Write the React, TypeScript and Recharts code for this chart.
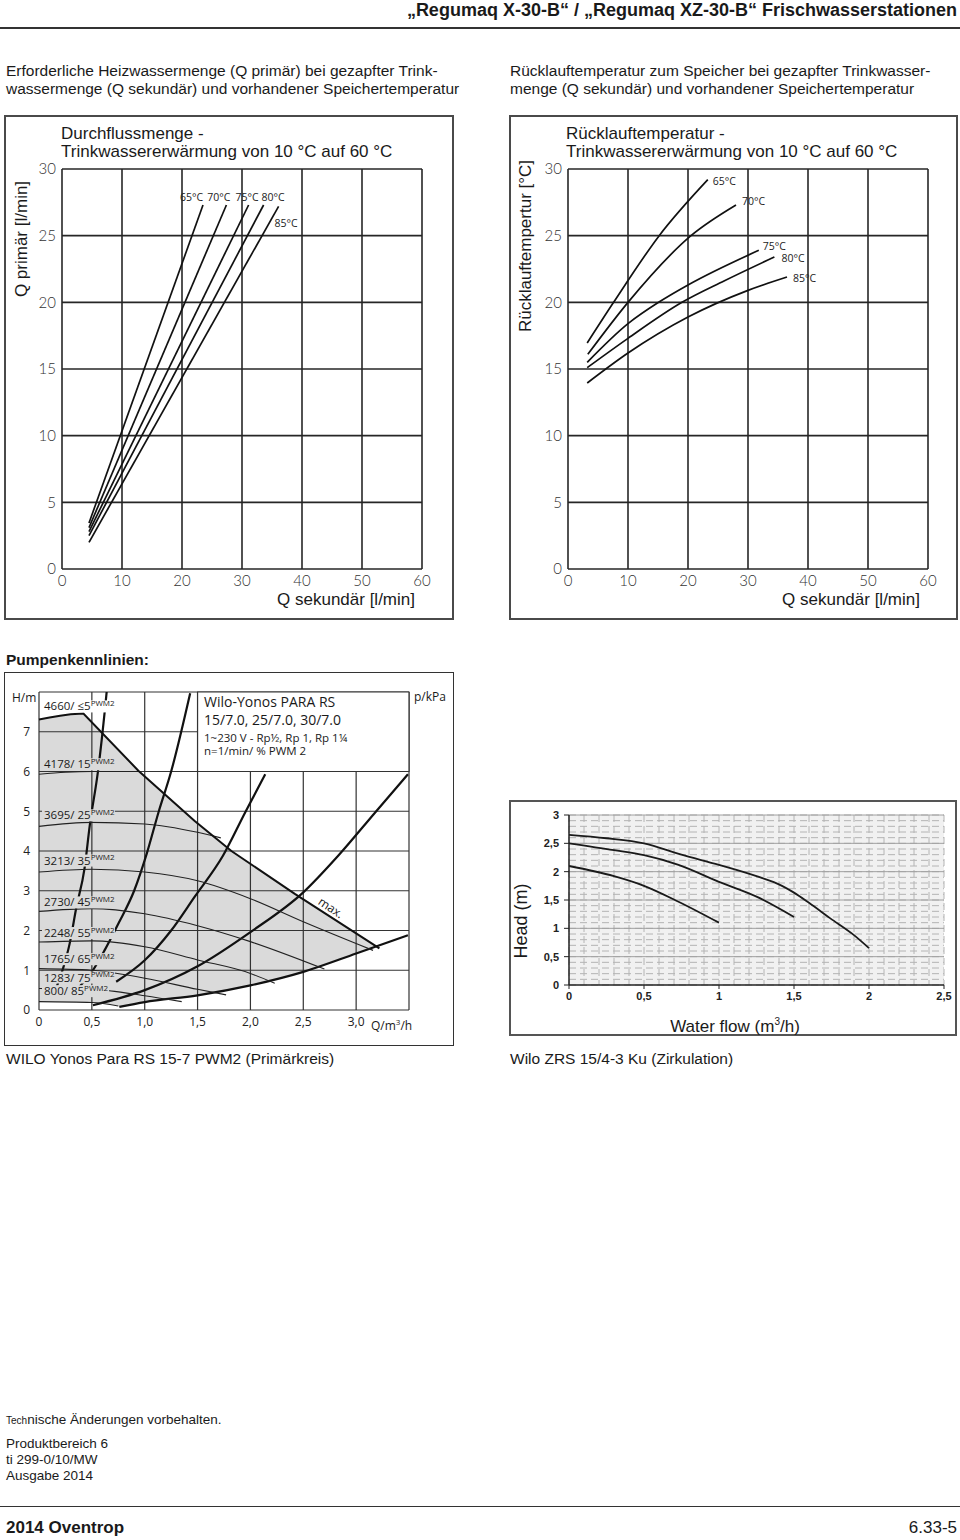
import React from 'react';
import {
  ComposedChart, LineChart, Line, Area, XAxis, YAxis, CartesianGrid,
  ReferenceArea, ReferenceLine, LabelList,
} from 'recharts';

type Pt = [number, number];
const rows = (pts: Pt[]) => pts.map(([x, y]) => ({ x, y }));

const NARROW = '"Liberation Sans Narrow", "Arial Narrow", "Liberation Sans", Arial, sans-serif';
const ARIAL = '"Liberation Sans", Arial, sans-serif';
const DIN = 'Lato, "DejaVu Sans", sans-serif';
const MYRIAD = '"Open Sans", "Noto Sans", sans-serif';

// ---------- Durchflussmenge / Rücklauftemperatur ----------
const tempXTicks = [0, 10, 20, 30, 40, 50, 60];
const tempYTicks = [0, 5, 10, 15, 20, 25, 30];
const storageTemps = ['65°C', '70°C', '75°C', '80°C', '85°C'];

// Q primär over Q sekundär
const flow65: Pt[] = [[4.5, 3.45], [23.5, 27.3]];
const flow70: Pt[] = [[4.5, 3.1], [27.4, 27.3]];
const flow75: Pt[] = [[4.5, 2.8], [31.1, 27.3]];
const flow80: Pt[] = [[4.5, 2.5], [33.6, 27.3]];
const flow85: Pt[] = [[4.5, 2.0], [36.1, 27.2]];

// Rücklauftemperatur over Q sekundär
const ret65: Pt[] = [[3.2, 16.95], [7.6, 20], [15.2, 25], [23.3, 29.2]];
const ret70: Pt[] = [[3.3, 16.1], [10, 20], [20.5, 25], [28.0, 27.3]];
const ret75: Pt[] = [[3.2, 15.5], [10, 18.4], [15.1, 20], [20, 21.3], [31.8, 23.9]];
const ret80: Pt[] = [[3.2, 15.1], [10, 17.3], [19, 20], [26, 21.6], [34.4, 23.4]];
const ret85: Pt[] = [[3.2, 13.95], [10, 16.2], [20, 18.9], [30, 20.9], [36.5, 21.9]];

type LabelPos = { dx: number; dy: number; anchor: 'start' | 'end' };
const flowLabelPos: LabelPos[] = [
  { dx: 0, dy: -4, anchor: 'end' },
  { dx: 4, dy: -4, anchor: 'end' },
  { dx: 10, dy: -4, anchor: 'end' },
  { dx: 21, dy: -4, anchor: 'end' },
  { dx: -4, dy: 21, anchor: 'start' },
];
const retLabelPos: LabelPos[] = [
  { dx: 5, dy: 5, anchor: 'start' },
  { dx: 6, dy: 0, anchor: 'start' },
  { dx: 4, dy: 0, anchor: 'start' },
  { dx: 7, dy: 5, anchor: 'start' },
  { dx: 6, dy: 5, anchor: 'start' },
];

// ---------- Wilo-Yonos PARA RS 15/7.0 ----------
const pumpXTicks = [0, 0.5, 1, 1.5, 2, 2.5, 3, 3.5];
const pumpXLabels = ['0', '0,5', '1,0', '1,5', '2,0', '2,5', '3,0', ''];
const pumpYTicks = [0, 1, 2, 3, 4, 5, 6, 7, 8];
const pumpKpaTicks = [0, 10, 20, 30, 40, 50, 60, 70];

const pumpMax: Pt[] = [[0, 7.31], [0.1, 7.36], [0.2, 7.4], [0.3, 7.44], [0.42, 7.46], [0.94, 6.02], [1.47, 4.76], [1.82, 4.0], [2.42, 2.92], [3.22, 1.55]];

const speedNames = ['4178/ 15', '3695/ 25', '3213/ 35', '2730/ 45', '2248/ 55', '1765/ 65', '1283/ 75', '800/ 85'];
const speed15: Pt[] = [[0, 5.93], [0.25, 5.98], [0.5, 6.0], [0.75, 6.0], [0.94, 6.0]];
const speed25: Pt[] = [[0, 4.62], [0.5, 4.72], [1.0, 4.68], [1.5, 4.47], [1.72, 4.33]];
const speed35: Pt[] = [[0, 3.47], [0.5, 3.54], [1.0, 3.47], [1.5, 3.25], [2.0, 2.8], [2.5, 2.22], [3.16, 1.5]];
const speed45: Pt[] = [[0, 2.48], [0.5, 2.55], [1.0, 2.42], [1.5, 2.12], [2.0, 1.72], [2.7, 1.03]];
const speed55: Pt[] = [[0, 1.71], [0.5, 1.74], [1.0, 1.59], [1.5, 1.26], [2.0, 0.92], [2.23, 0.67]];
const speed65: Pt[] = [[0, 1.04], [0.5, 1.0], [1.0, 0.8], [1.5, 0.52], [1.77, 0.38]];
const speed75: Pt[] = [[0, 0.54], [0.5, 0.52], [1.0, 0.36], [1.35, 0.21]];
const speed85: Pt[] = [[0, 0.21], [0.5, 0.19], [0.75, 0.1]];
const speedCurves = [speed15, speed25, speed35, speed45, speed55, speed65, speed75, speed85];
const speedLabelDy = [-6, -7, -7.5, -5, -5, -5.5, -7, -6.5];

// system curves (thick)
const sysSteep: Pt[] = [[0.165, 0.57], [0.227, 1.04], [0.29, 1.67], [0.354, 2.59], [0.43, 3.55], [0.48, 4.64], [0.56, 6.05], [0.622, 7.52], [0.64, 8.0]];
const sysSteep2: Pt[] = [[0.37, 0.55], [0.51, 1.0], [0.62, 1.5], [0.75, 2.17], [0.9, 3.0], [1.02, 3.94], [1.13, 4.97], [1.25, 6.0], [1.43, 7.97]];
const sysMid: Pt[] = [[0.73, 0.71], [1.0, 1.25], [1.25, 2.0], [1.47, 2.84], [1.74, 3.88], [1.95, 4.97], [2.14, 5.93]];
const sysFlat: Pt[] = [[0.51, 0.12], [1.0, 0.5], [1.5, 1.1], [2.0, 1.96], [2.5, 2.96], [2.83, 3.88], [3.18, 4.97], [3.49, 5.93]];
const sysLow: Pt[] = [[0.76, 0.08], [1.0, 0.2], [1.5, 0.37], [2.0, 0.62], [2.5, 0.96], [3.0, 1.42], [3.49, 1.88]];
const systemCurves = [sysSteep, sysSteep2, sysMid, sysFlat, sysLow];
const lowerEdge = [...speed85, ...sysLow];

// ---------- Wilo ZRS 15/4-3 Ku ----------
const zrsXTicks = [0, 0.1, 0.2, 0.3, 0.4, 0.5, 0.6, 0.7, 0.8, 0.9, 1, 1.1, 1.2, 1.3, 1.4, 1.5, 1.6, 1.7, 1.8, 1.9, 2, 2.1, 2.2, 2.3, 2.4, 2.5];
const zrsYTicks = [0, 0.1, 0.2, 0.3, 0.4, 0.5, 0.6, 0.7, 0.8, 0.9, 1, 1.1, 1.2, 1.3, 1.4, 1.5, 1.6, 1.7, 1.8, 1.9, 2, 2.1, 2.2, 2.3, 2.4, 2.5, 2.6, 2.7, 2.8, 2.9, 3];
const zrsXMajor = [0, 0.5, 1, 1.5, 2, 2.5];
const zrsXLabels = ['0', '0,5', '1', '1,5', '2', '2,5'];
const zrsYMajor = [0, 0.5, 1, 1.5, 2, 2.5, 3];
const zrsYLabels = ['0', '0,5', '1', '1,5', '2', '2,5', '3'];

const zrsStage3: Pt[] = [[0, 2.65], [0.25, 2.59], [0.5, 2.5], [0.75, 2.3], [1.0, 2.12], [1.25, 1.92], [1.42, 1.75], [1.5, 1.63], [1.6, 1.45], [1.74, 1.18], [1.9, 0.88], [2.0, 0.65]];
const zrsStage2: Pt[] = [[0, 2.5], [0.3, 2.38], [0.5, 2.29], [0.73, 2.12], [1.0, 1.82], [1.25, 1.56], [1.5, 1.2]];
const zrsStage1: Pt[] = [[0, 2.1], [0.3, 1.92], [0.5, 1.75], [0.73, 1.47], [1.0, 1.1]];

// ---------- helpers ----------
function Txt({ x, cy, size, children, bold, align = 'left', font = NARROW, color = '#1a1a1a' }: any) {
  const style: React.CSSProperties = {
    position: 'absolute', top: cy - size * 0.6, fontSize: size, lineHeight: `${size * 1.2}px`,
    whiteSpace: 'nowrap', fontWeight: bold ? 700 : 400, fontFamily: font, color,
  };
  if (align === 'right') style.right = 960 - x;
  else style.left = x;
  if (align === 'center') style.transform = 'translateX(-50%)';
  return <div style={style}>{children}</div>;
}

function VTxt({ cx, cy, size, children, font = NARROW }: any) {
  return (
    <div style={{
      position: 'absolute', left: cx, top: cy, fontSize: size, fontFamily: font, whiteSpace: 'nowrap',
      transform: 'translate(-50%, -50%) rotate(-90deg)', color: '#1a1a1a', lineHeight: 1,
    }}>{children}</div>
  );
}

function Frame({ x, y, w, h, c = '#4a4a4a', t = 2 }: any) {
  return <div style={{ position: 'absolute', left: x, top: y, width: w, height: h, border: `${t}px solid ${c}`, boxSizing: 'border-box' }} />;
}

const tempTick = { fill: '#333', fontSize: 15, fontFamily: DIN, fontWeight: 300 };

function TempChart({ left, series, labelPos, curve }: { left: number; series: Pt[][]; labelPos: LabelPos[]; curve: 'linear' | 'monotone' }) {
  return (
    <div style={{ position: 'absolute', left, top: 110 }}>
      <LineChart width={460} height={520} margin={{ top: 59, right: 38, bottom: 31, left: 22 }}>
        <CartesianGrid stroke="#262626" strokeWidth={1.6} />
        <XAxis type="number" dataKey="x" domain={[0, 60]} ticks={tempXTicks} interval={0} height={30}
          axisLine={false} tickLine={false} tickSize={0} tickMargin={6} tick={tempTick} />
        <YAxis type="number" domain={[0, 30]} ticks={tempYTicks} interval={0} width={40}
          axisLine={false} tickLine={false} tickSize={0} tickMargin={6} tick={tempTick} />
        {series.map((pts, i) => (
          <Line key={storageTemps[i]} data={rows(pts)} dataKey="y" type={curve} stroke="#111" strokeWidth={1.7}
            dot={false} activeDot={false} isAnimationActive={false}>
            <LabelList dataKey="y" content={(p: any) => (p.index === pts.length - 1 ? (
              <text x={p.x + labelPos[i].dx} y={p.y + labelPos[i].dy} textAnchor={labelPos[i].anchor}
                fontSize={10.5} fontFamily={MYRIAD} fill="#222">{storageTemps[i]}</text>
            ) : null)} />
          </Line>
        ))}
      </LineChart>
    </div>
  );
}

const pumpTick = { fill: '#222', fontSize: 12, fontFamily: MYRIAD };

function pwmLabel(name: string, dy: number, halo: string) {
  return (p: any) => (p.index === 0 ? (
    <g>
      <rect x={p.x + 3} y={p.y + dy - 10} width={name.length * 6 + 25} height={12} fill={halo} />
      <text x={p.x + 5} y={p.y + dy} fontSize={11.5} fontFamily={MYRIAD} fill="#1a1a1a">
        {name}<tspan dy={-4.5} fontSize={8}>PWM2</tspan>
      </text>
    </g>
  ) : null);
}

function PumpChart() {
  return (
    <div style={{ position: 'absolute', left: 0, top: 672 }}>
      <ComposedChart width={460} height={380} margin={{ top: 20, right: 11, bottom: 22, left: 9 }}>
        <XAxis type="number" dataKey="x" domain={[0, 3.5]} ticks={pumpXTicks} interval={0} height={20}
          tickFormatter={(v: number) => pumpXLabels[pumpXTicks.indexOf(v)]}
          axisLine={false} tickLine={false} tickSize={0} tickMargin={7} tick={pumpTick} />
        <YAxis yAxisId="m" type="number" domain={[0, 8]} ticks={pumpYTicks} interval={0} width={30}
          tickFormatter={(v: number) => (v === 8 ? '' : String(v))}
          axisLine={false} tickLine={false} tickSize={0} tickMargin={9} tick={pumpTick} />
        <YAxis yAxisId="kpa" orientation="right" type="number" domain={[0, 8 * 9.81]} ticks={pumpKpaTicks} interval={0}
          width={40} axisLine={false} tickLine={{ stroke: '#222' }} tickSize={4} tickMargin={3} tick={pumpTick} />
        <Area yAxisId="m" data={rows(pumpMax)} dataKey="y" type="linear" fill="#dadada" fillOpacity={1} stroke="none"
          dot={false} activeDot={false} isAnimationActive={false} zIndex={10} />
        <Area yAxisId="m" data={rows(lowerEdge)} dataKey="y" type="monotone" fill="#ffffff" fillOpacity={1} stroke="none"
          dot={false} activeDot={false} isAnimationActive={false} zIndex={11} />
        <CartesianGrid yAxisId="m" stroke="#333" strokeWidth={1.2} zIndex={20} />
        <ReferenceArea yAxisId="m" x1={1.5} x2={3.5} y1={6} y2={8} fill="#fff" fillOpacity={1} stroke="#333" strokeWidth={1.2} zIndex={30} />
        {systemCurves.map((pts, i) => (
          <Line key={`sys${i}`} yAxisId="m" data={rows(pts)} dataKey="y" type="monotone" stroke="#111" strokeWidth={2.2}
            dot={false} activeDot={false} isAnimationActive={false} zIndex={40} />
        ))}
        {speedCurves.map((pts, i) => (
          <Line key={speedNames[i]} yAxisId="m" data={rows(pts)} dataKey="y" type="monotone" stroke="#222" strokeWidth={1.1}
            dot={false} activeDot={false} isAnimationActive={false} zIndex={41}>
            <LabelList dataKey="y" content={pwmLabel(speedNames[i], speedLabelDy[i], '#dadada')} />
          </Line>
        ))}
        <Line yAxisId="m" data={rows(pumpMax)} dataKey="y" type="linear" stroke="#111" strokeWidth={2}
          dot={false} activeDot={false} isAnimationActive={false} zIndex={42}>
          <LabelList dataKey="y" content={(p: any) => {
            if (p.index === 0) return pwmLabel('4660/ ≤5', -9, '#ffffff')(p);
            if (p.index === 8) return (
              <text x={p.x + 36} y={p.y + 18} textAnchor="middle" fontSize={12} fontFamily={MYRIAD} fill="#1a1a1a"
                transform={`rotate(34 ${p.x + 36} ${p.y + 14})`}>max.</text>
            );
            return null;
          }} />
        </Line>
      </ComposedChart>
    </div>
  );
}

function ZrsTickX(props: any) {
  const { x, y, payload } = props;
  const k = zrsXMajor.indexOf(payload.value);
  if (k < 0) return null;
  return (
    <g>
      <line x1={x} x2={x} y1={y} y2={y + 4} stroke="#222" />
      <text x={x} y={y + 15} textAnchor="middle" fontSize={11} fontWeight={700} fontFamily={ARIAL} fill="#222">{zrsXLabels[k]}</text>
    </g>
  );
}

function ZrsTickY(props: any) {
  const { x, y, payload } = props;
  const k = zrsYMajor.indexOf(payload.value);
  if (k < 0) return null;
  return (
    <g>
      <line x1={x - 5} x2={x} y1={y} y2={y} stroke="#222" />
      <text x={x - 10} y={y + 4} textAnchor="end" fontSize={11} fontWeight={700} fontFamily={ARIAL} fill="#222">{zrsYLabels[k]}</text>
    </g>
  );
}

function ZrsChart() {
  const stages = [zrsStage3, zrsStage2, zrsStage1];
  return (
    <div style={{ position: 'absolute', left: 509, top: 800 }}>
      <LineChart width={448} height={236} margin={{ top: 15, right: 13, bottom: 26, left: 32 }}>
        <CartesianGrid stroke="#b4b4b4" strokeDasharray="7 4" fill="#f1f1f1" fillOpacity={1} />
        {zrsYMajor.slice(1).map((v) => (
          <ReferenceLine key={v} y={v} stroke="#a0a0a0" strokeWidth={1} />
        ))}
        <XAxis type="number" dataKey="x" domain={[0, 2.5]} ticks={zrsXTicks} interval={0} height={25}
          axisLine={{ stroke: '#222', strokeWidth: 1.5 }} tickLine={false} tickSize={0} tickMargin={0} tick={<ZrsTickX />} />
        <YAxis type="number" domain={[0, 3]} ticks={zrsYTicks} interval={0} width={28}
          axisLine={{ stroke: '#222', strokeWidth: 1.5 }} tickLine={false} tickSize={0} tickMargin={0} tick={<ZrsTickY />} />
        {stages.map((pts, i) => (
          <Line key={`zrs${i}`} data={rows(pts)} dataKey="y" type="monotone" stroke="#1a1a1a" strokeWidth={1.8}
            dot={false} activeDot={false} isAnimationActive={false} />
        ))}
      </LineChart>
    </div>
  );
}

export default function App() {
  return (
    <div style={{ position: 'relative', width: 960, height: 1540, overflow: 'hidden', background: '#fff', color: '#1a1a1a' }}>
      <style>{'body{margin:0}'}</style>

      {/* Kopfzeile */}
      <Txt x={957} cy={11} size={18} bold align="right">„Regumaq X-30-B“ / „Regumaq XZ-30-B“ Frischwasserstationen</Txt>
      <div style={{ position: 'absolute', left: 0, top: 27, width: 960, height: 2, background: '#333' }} />

      <Txt x={6} cy={71} size={15.5}>Erforderliche Heizwassermenge (Q primär) bei gezapfter Trink-</Txt>
      <Txt x={6} cy={89} size={15.5}>wassermenge (Q sekundär) und vorhandener Speichertemperatur</Txt>
      <Txt x={510} cy={71} size={15.5}>Rücklauftemperatur zum Speicher bei gezapfter Trinkwasser-</Txt>
      <Txt x={510} cy={89} size={15.5}>menge (Q sekundär) und vorhandener Speichertemperatur</Txt>

      {/* obere Diagramme */}
      <Frame x={4} y={115} w={450} h={505} />
      <Frame x={509} y={115} w={449} h={505} />
      <TempChart left={0} series={[flow65, flow70, flow75, flow80, flow85]} labelPos={flowLabelPos} curve="linear" />
      <TempChart left={506} series={[ret65, ret70, ret75, ret80, ret85]} labelPos={retLabelPos} curve="monotone" />

      <Txt x={61} cy={134} size={17}>Durchflussmenge -</Txt>
      <Txt x={61} cy={152} size={17}>Trinkwassererwärmung von 10 °C auf 60 °C</Txt>
      <VTxt cx={21} cy={239} size={17}>Q primär [l/min]</VTxt>
      <Txt x={415} cy={600} size={17} align="right">Q sekundär [l/min]</Txt>

      <Txt x={566} cy={134} size={17}>Rücklauftemperatur -</Txt>
      <Txt x={566} cy={152} size={17}>Trinkwassererwärmung von 10 °C auf 60 °C</Txt>
      <VTxt cx={525} cy={246} size={17}>Rücklauftempertur [°C]</VTxt>
      <Txt x={920} cy={600} size={17} align="right">Q sekundär [l/min]</Txt>

      <Txt x={6} cy={660} size={15.5} bold>Pumpenkennlinien:</Txt>

      {/* Pumpenkennlinie Wilo-Yonos */}
      <Frame x={4} y={672} w={450} h={374} c="#333" t={1.5} />
      <PumpChart />
      <Txt x={12} cy={698} size={12} font={MYRIAD}>H/m</Txt>
      <Txt x={414} cy={697} size={12} font={MYRIAD}>p/kPa</Txt>
      <Txt x={371} cy={1022} size={12} font={MYRIAD}>Q/m<sup style={{ fontSize: 8 }}>3</sup>/h</Txt>
      <Txt x={204} cy={702} size={14} font={MYRIAD}>Wilo-Yonos PARA RS</Txt>
      <Txt x={204} cy={720} size={14} font={MYRIAD}>15/7.0, 25/7.0, 30/7.0</Txt>
      <Txt x={204} cy={738} size={11.5} font={MYRIAD}>1~230 V - Rp½, Rp 1, Rp 1¼</Txt>
      <Txt x={204} cy={751} size={11.5} font={MYRIAD}>n=1/min/ % PWM 2</Txt>

      {/* Wilo ZRS */}
      <Frame x={509} y={800} w={448} h={236} c="#555" t={2} />
      <ZrsChart />
      <Txt x={735} cy={1022} size={17} align="center">Water flow (m<sup style={{ fontSize: 10 }}>3</sup>/h)</Txt>
      <VTxt cx={521} cy={921} size={18}>Head (m)</VTxt>

      <Txt x={6} cy={1059} size={15.5}>WILO Yonos Para RS 15-7 PWM2 (Primärkreis)</Txt>
      <Txt x={510} cy={1059} size={15.5}>Wilo ZRS 15/4-3 Ku  (Zirkulation)</Txt>

      {/* Fußzeile */}
      <Txt x={6} cy={1420} size={13.5} font={ARIAL}><span style={{ fontSize: 10 }}>Tech</span>nische Änderungen vorbehalten.</Txt>
      <Txt x={6} cy={1444} size={13.5} font={ARIAL}>Produktbereich 6</Txt>
      <Txt x={6} cy={1460} size={13.5} font={ARIAL}>ti 299-0/10/MW</Txt>
      <Txt x={6} cy={1476} size={13.5} font={ARIAL}>Ausgabe 2014</Txt>
      <div style={{ position: 'absolute', left: 0, top: 1506, width: 960, height: 1, background: '#333' }} />
      <Txt x={6} cy={1528} size={17} bold font={ARIAL}>2014 Oventrop</Txt>
      <Txt x={957} cy={1528} size={17} align="right" font={ARIAL}>6.33-5</Txt>
    </div>
  );
}
